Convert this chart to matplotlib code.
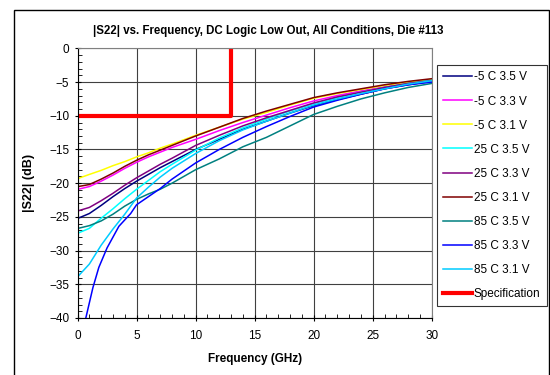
import matplotlib
matplotlib.use("Agg")
import matplotlib.pyplot as plt
from matplotlib.patches import Rectangle
from matplotlib.ticker import MultipleLocator

plt.rcParams['font.family'] = ['Liberation Sans', 'DejaVu Sans']

# frequency points (GHz) shared by most curves
freq = [0.05, 1, 2, 3, 4, 5, 6, 7, 8, 10, 12, 14, 16, 18, 20, 22, 24, 26, 28, 30]

m5c_35 = [-25.2, -24.5, -23.3, -22.0, -20.8, -19.7, -18.7, -17.7, -16.8, -15.0,
          -13.5, -12.0, -10.8, -9.6, -8.5, -7.6, -6.8, -6.0, -5.4, -4.9]
m5c_33 = [-20.9, -20.5, -19.7, -18.8, -17.8, -16.9, -16.1, -15.4, -14.7, -13.5,
          -12.2, -11.0, -9.9, -8.8, -7.8, -7.0, -6.3, -5.7, -5.2, -4.8]
m5c_31 = [-19.3, -18.7, -18.1, -17.4, -16.8, -16.1, -15.5, -14.8, -14.2, -12.9,
          -11.7, -10.5, -9.5, -8.4, -7.4, -6.7, -6.1, -5.5, -5.0, -4.6]
c25_35 = [-27.4, -26.7, -25.2, -23.8, -22.3, -20.9, -19.6, -18.3, -17.2, -15.1,
          -13.3, -11.8, -10.5, -9.3, -8.2, -7.3, -6.5, -5.8, -5.2, -4.7]
c25_33 = [-24.1, -23.6, -22.6, -21.5, -20.3, -19.2, -18.2, -17.2, -16.3, -14.4,
          -12.9, -11.5, -10.3, -9.2, -8.1, -7.2, -6.5, -5.8, -5.2, -4.8]
c25_31 = [-20.5, -20.2, -19.4, -18.5, -17.5, -16.6, -15.8, -15.1, -14.4, -13.0,
          -11.7, -10.4, -9.3, -8.3, -7.3, -6.6, -6.0, -5.4, -4.9, -4.5]
c85_35 = [-26.7, -26.3, -25.6, -24.6, -23.4, -22.4, -21.6, -20.9, -20.0, -18.0,
          -16.4, -14.6, -13.2, -11.5, -9.8, -8.6, -7.5, -6.6, -5.8, -5.2]
c85_31 = [-33.8, -32.0, -29.2, -26.8, -24.6, -22.2, -20.6, -19.1, -17.8, -15.6,
          -13.7, -12.1, -10.8, -9.6, -8.4, -7.5, -6.7, -6.0, -5.3, -4.8]

# 85 C 3.3 V starts below the axis floor
freq_b = [0.7, 1.3, 1.8, 2.5, 3.5, 4.5, 5, 6, 7, 8, 10, 12, 14, 16, 18, 20, 22, 24, 26, 28, 30]
c85_33 = [-40.0, -35.5, -32.5, -29.6, -26.4, -24.5, -23.2, -22.0, -20.8, -19.4, -17.0,
          -15.0, -13.2, -11.6, -10.1, -8.7, -7.7, -6.8, -6.0, -5.4, -5.0]

spec_f = [0, 13, 13]
spec_db = [-10, -10, 0]

fig = plt.figure(figsize=(5.5, 3.75), dpi=100)
ax = fig.add_axes([0.141, 0.152, 0.644, 0.719])

lw = 1.1
ax.plot(freq, m5c_35, color="#000080", lw=lw, label="-5 C 3.5 V")
ax.plot(freq, m5c_33, color="#ff00ff", lw=lw, label="-5 C 3.3 V")
ax.plot(freq, m5c_31, color="#ffff00", lw=lw, label="-5 C 3.1 V")
ax.plot(freq, c25_35, color="#00ffff", lw=lw, label="25 C 3.5 V")
ax.plot(freq, c25_33, color="#800080", lw=lw, label="25 C 3.3 V")
ax.plot(freq, c25_31, color="#800000", lw=lw, label="25 C 3.1 V")
ax.plot(freq, c85_35, color="#008080", lw=lw, label="85 C 3.5 V")
ax.plot(freq_b, c85_33, color="#0000ff", lw=lw, label="85 C 3.3 V")
ax.plot(freq, c85_31, color="#00ccff", lw=lw, label="85 C 3.1 V")
ax.plot(spec_f, spec_db, color="#ff0000", lw=3, label="Specification")

ax.set_xlim(0, 30)
ax.set_ylim(-40, 0)
ax.xaxis.set_major_locator(MultipleLocator(5))
ax.xaxis.set_minor_locator(MultipleLocator(1))
ax.yaxis.set_major_locator(MultipleLocator(5))
ax.yaxis.set_minor_locator(MultipleLocator(1))
ax.grid(True, which="major", color="#404040", lw=0.8)
ax.tick_params(which="major", direction="inout", length=5, labelsize=8.5, top=False, right=False)
ax.tick_params(which="minor", direction="in", length=3)
ax.tick_params(axis="x", pad=6)
for s in ["top", "right"]:
    ax.spines[s].set_color("#808080")

ax.set_xlabel("Frequency (GHz)", fontsize=8.5, fontweight="bold", labelpad=8)
ax.set_ylabel("|S22| (dB)", fontsize=9, fontweight="bold", labelpad=10)
fig.text(0.488, 0.918, "|S22| vs. Frequency, DC Logic Low Out, All Conditions, Die #113",
         ha="center", va="center", fontsize=8.3, fontweight="bold")

leg = fig.legend(loc="upper left", bbox_to_anchor=(437 / 550, 1 - 65 / 375),
                 fontsize=8.5, frameon=True, fancybox=False, handlelength=2.4,
                 handletextpad=0.15, labelspacing=1.02, borderpad=0.55, borderaxespad=0)
leg.get_frame().set_edgecolor("black")
leg.get_frame().set_linewidth(0.8)

fig.patches.append(Rectangle((14 / 550, -0.1), 535 / 550, 1.1 - 10 / 375, transform=fig.transFigure,
                             fill=False, edgecolor="black", lw=1))

fig.savefig("out.png", dpi=100)
